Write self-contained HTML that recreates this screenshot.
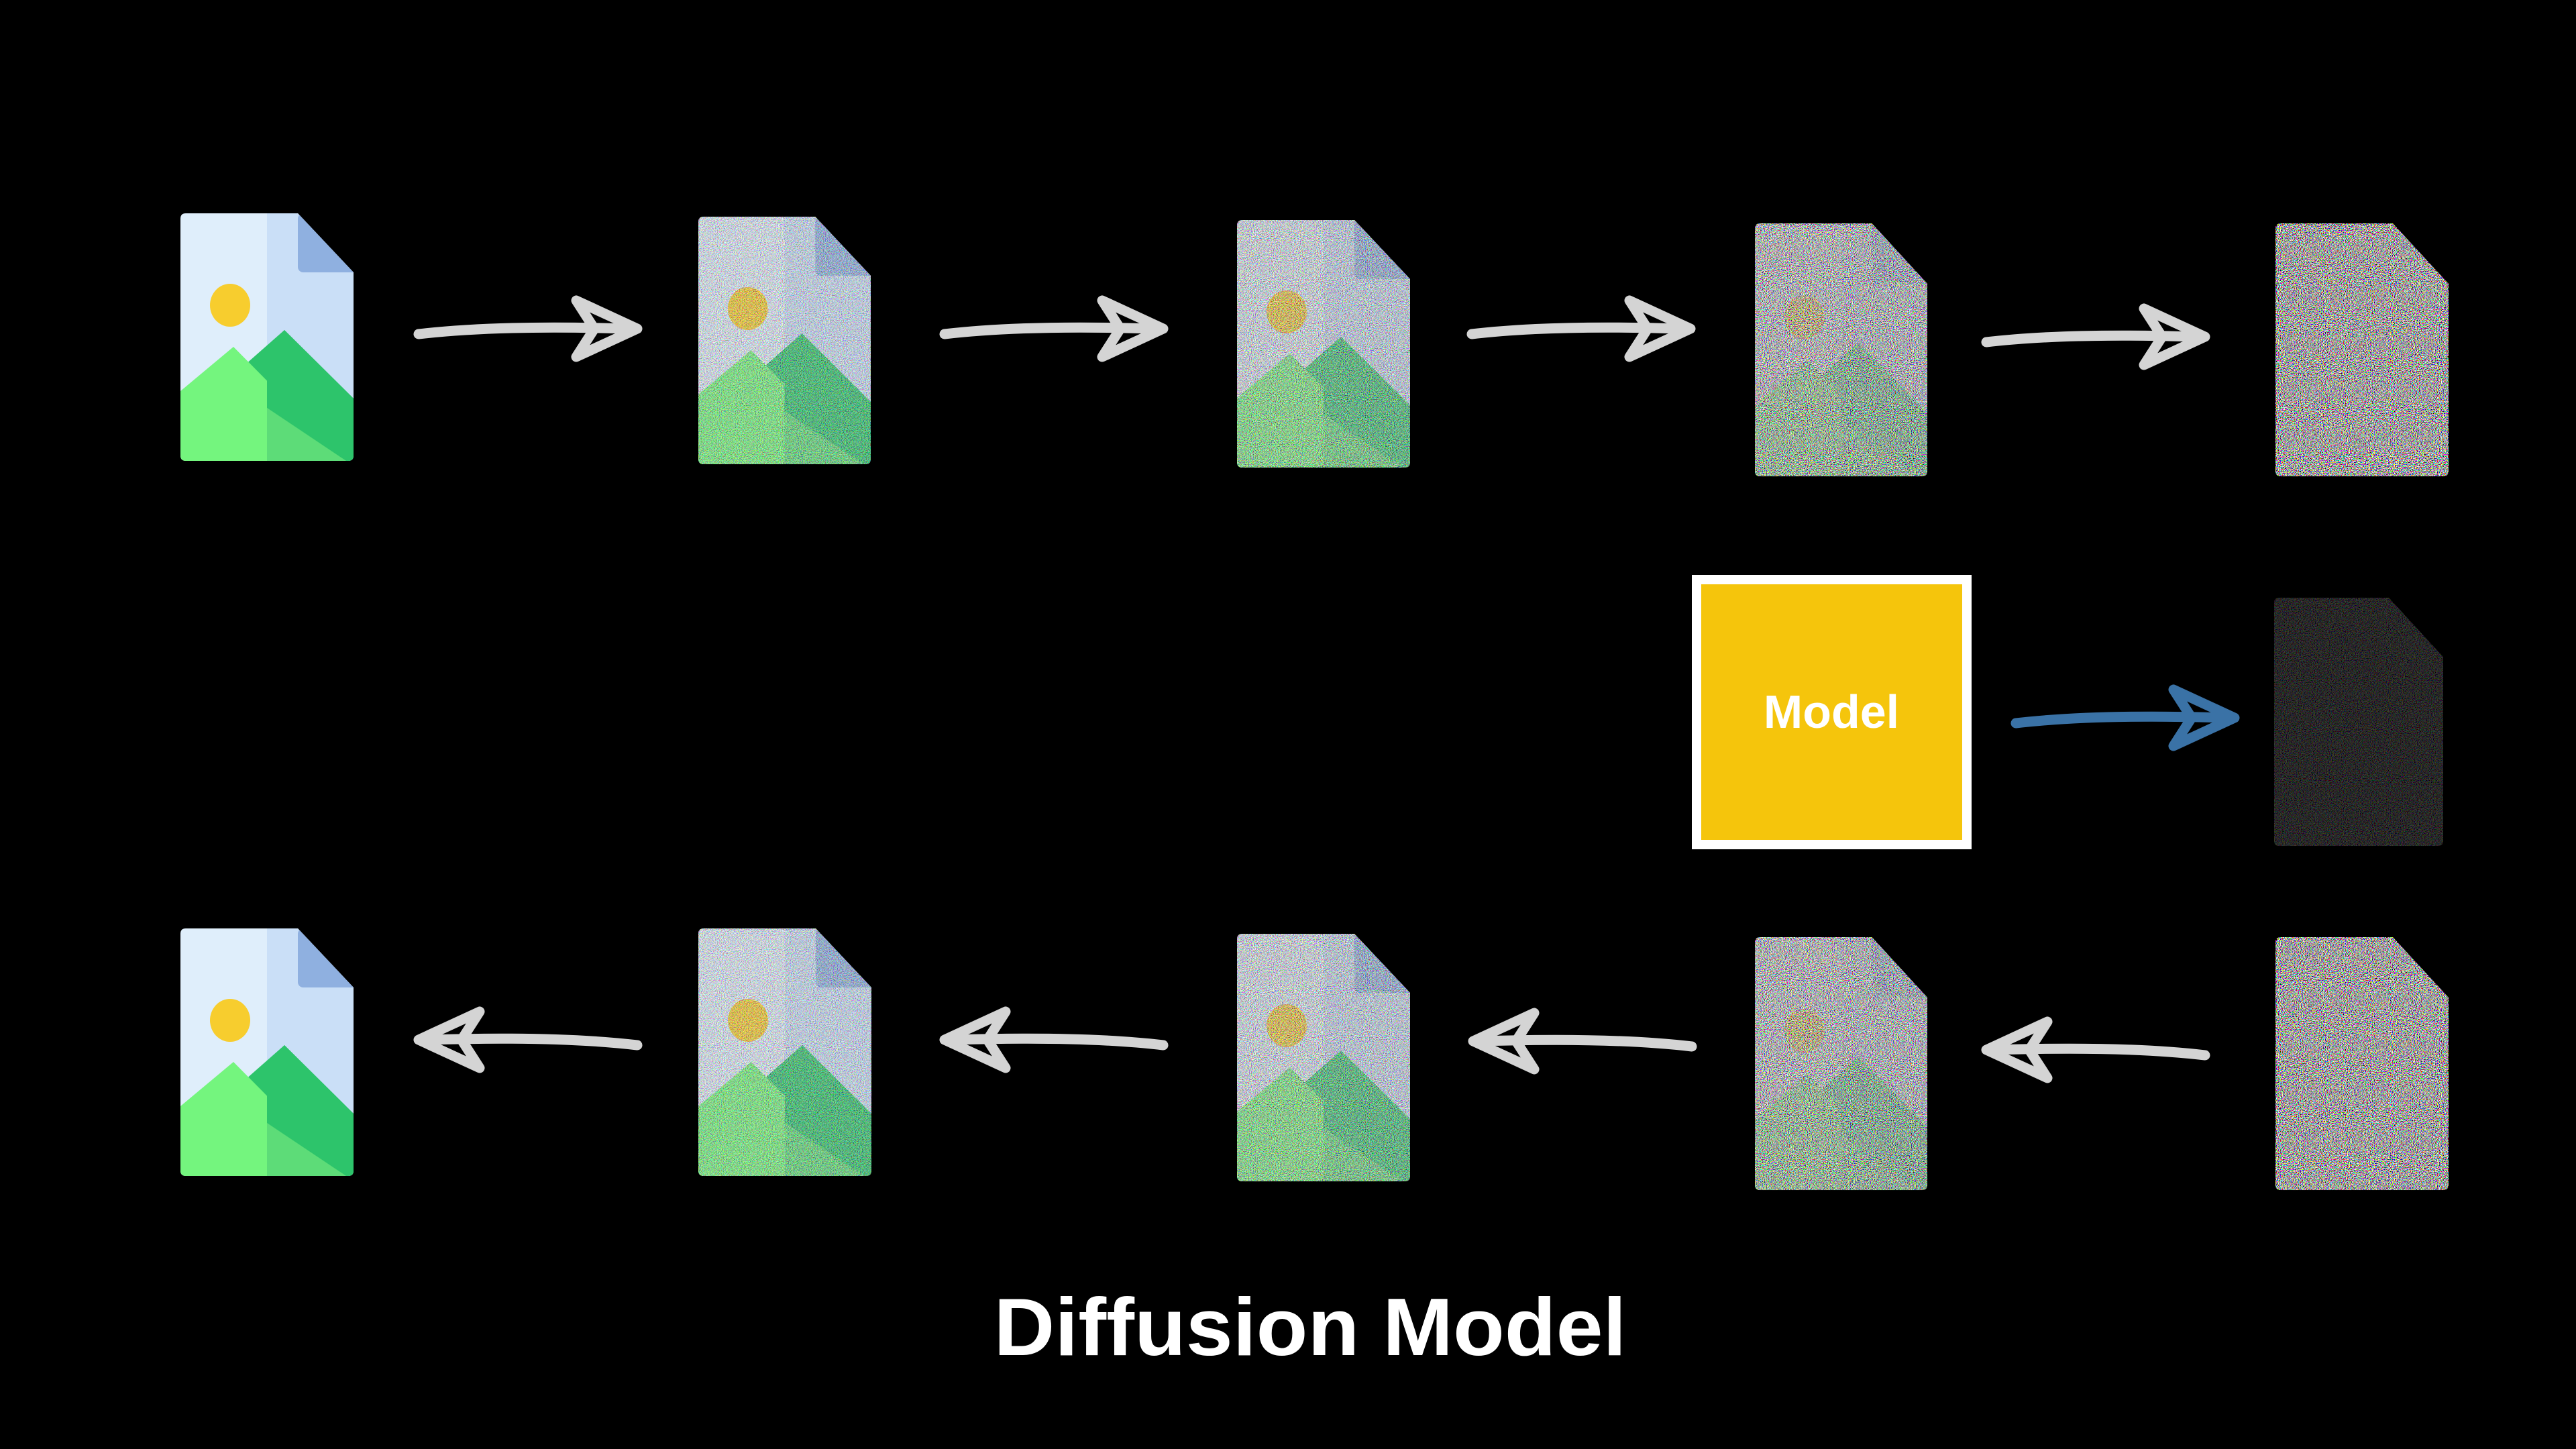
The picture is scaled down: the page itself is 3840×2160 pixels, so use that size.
<!DOCTYPE html>
<html><head><meta charset="utf-8"><style>html,body{margin:0;padding:0;background:#000;width:3840px;height:2160px;overflow:hidden}</style></head>
<body>
<svg width="3840" height="2160" viewBox="0 0 3840 2160" xmlns="http://www.w3.org/2000/svg">
<defs>
<clipPath id="doc"><path d="M8,0 L175,0 L258,88 L258,361 Q258,369 250,369 L8,369 Q0,369 0,361 L0,8 Q0,0 8,0 Z"/></clipPath>
<filter id="nz" x="0" y="0" width="100%" height="100%" filterUnits="objectBoundingBox">
<feTurbulence type="fractalNoise" baseFrequency="0.7" numOctaves="1" seed="7" result="t"/>
<feComponentTransfer>
<feFuncR type="linear" slope="6" intercept="-2.5"/>
<feFuncG type="linear" slope="6" intercept="-2.5"/>
<feFuncB type="linear" slope="6" intercept="-2.5"/>
<feFuncA type="linear" slope="0" intercept="1"/>
</feComponentTransfer>
</filter>
<g id="icon">
<g clip-path="url(#doc)">
<rect x="0" y="0" width="258" height="369" fill="#dfeefb"/>
<rect x="129" y="0" width="129" height="369" fill="#cadff7"/>
<rect x="175" y="0" width="90" height="88" rx="8" fill="#8fb0e0"/>
<ellipse cx="74" cy="137" rx="30" ry="32" fill="#f7cd2e"/>
<polygon points="80,240 155,174 258,276 258,369 80,369" fill="#2dc46b"/>
<polygon points="0,265 79,199 247,369 0,369" fill="#74f57e"/>
<polygon points="129,290 247,369 129,369" fill="#5ddc78"/>
<polygon points="129,202 155,174 258,276 258,369 247,369 129,290" fill="#2dc46b"/>
</g>
</g>
<g id="noise"><rect x="0" y="0" width="258" height="369" filter="url(#nz)" clip-path="url(#doc)"/></g>
<g id="ar" fill="none" stroke="#d4d4d4" stroke-width="15" stroke-linecap="round" stroke-linejoin="round">
<path d="M0,8 Q120,-6 310,0"/>
<path d="M235,-42 L326,0 L235,42 L262,0 Z"/>
</g>
<g id="arb" fill="none" stroke="#3a72a6" stroke-width="15" stroke-linecap="round" stroke-linejoin="round">
<path d="M0,8 Q120,-6 310,0"/>
<path d="M235,-42 L326,0 L235,42 L262,0 Z"/>
</g>
</defs>

<!-- Row 1 -->
<g transform="translate(269,318)"><use href="#icon"/></g>
<g transform="translate(1041,323) scale(0.996,1.0)"><use href="#icon"/><g opacity="0.38"><use href="#noise"/></g></g>
<g transform="translate(1844,328)"><use href="#icon"/><g opacity="0.52"><use href="#noise"/></g></g>
<g transform="translate(2616,333) scale(0.996,1.022)"><use href="#icon"/><g opacity="0.82"><use href="#noise"/></g></g>
<g transform="translate(3392,333) scale(1.0,1.022)"><use href="#noise"/></g>

<g transform="translate(624,490)"><use href="#ar"/></g>
<g transform="translate(1408,490)"><use href="#ar"/></g>
<g transform="translate(2194,490)"><use href="#ar"/></g>
<g transform="translate(2961,502)"><use href="#ar"/></g>

<!-- Middle -->
<rect x="2529" y="864" width="403" height="395" fill="#f5c50c" stroke="#fff" stroke-width="14"/>
<text x="2730" y="1085" text-anchor="middle" font-family="Liberation Sans, sans-serif" font-weight="bold" font-size="70" fill="#fff">Model</text>
<g transform="translate(3005,1070)"><use href="#arb"/></g>
<g transform="translate(3390,891) scale(0.977,1.003)"><g opacity="0.25"><use href="#noise"/></g></g>

<!-- Row 3 -->
<g transform="translate(269,1384)"><use href="#icon"/></g>
<g transform="translate(1041,1384)"><use href="#icon"/><g opacity="0.38"><use href="#noise"/></g></g>
<g transform="translate(1844,1392)"><use href="#icon"/><g opacity="0.52"><use href="#noise"/></g></g>
<g transform="translate(2616,1397) scale(0.996,1.022)"><use href="#icon"/><g opacity="0.82"><use href="#noise"/></g></g>
<g transform="translate(3392,1397) scale(1.0,1.022)"><use href="#noise"/></g>

<g transform="translate(950,1550) scale(-1,1)"><use href="#ar"/></g>
<g transform="translate(1734,1550) scale(-1,1)"><use href="#ar"/></g>
<g transform="translate(2522,1552) scale(-1,1)"><use href="#ar"/></g>
<g transform="translate(3287,1565) scale(-1,1)"><use href="#ar"/></g>

<text x="1953" y="2020" text-anchor="middle" font-family="Liberation Sans, sans-serif" font-weight="bold" font-size="122" fill="#fff" textLength="943" lengthAdjust="spacingAndGlyphs">Diffusion Model</text>
</svg>
</body></html>
